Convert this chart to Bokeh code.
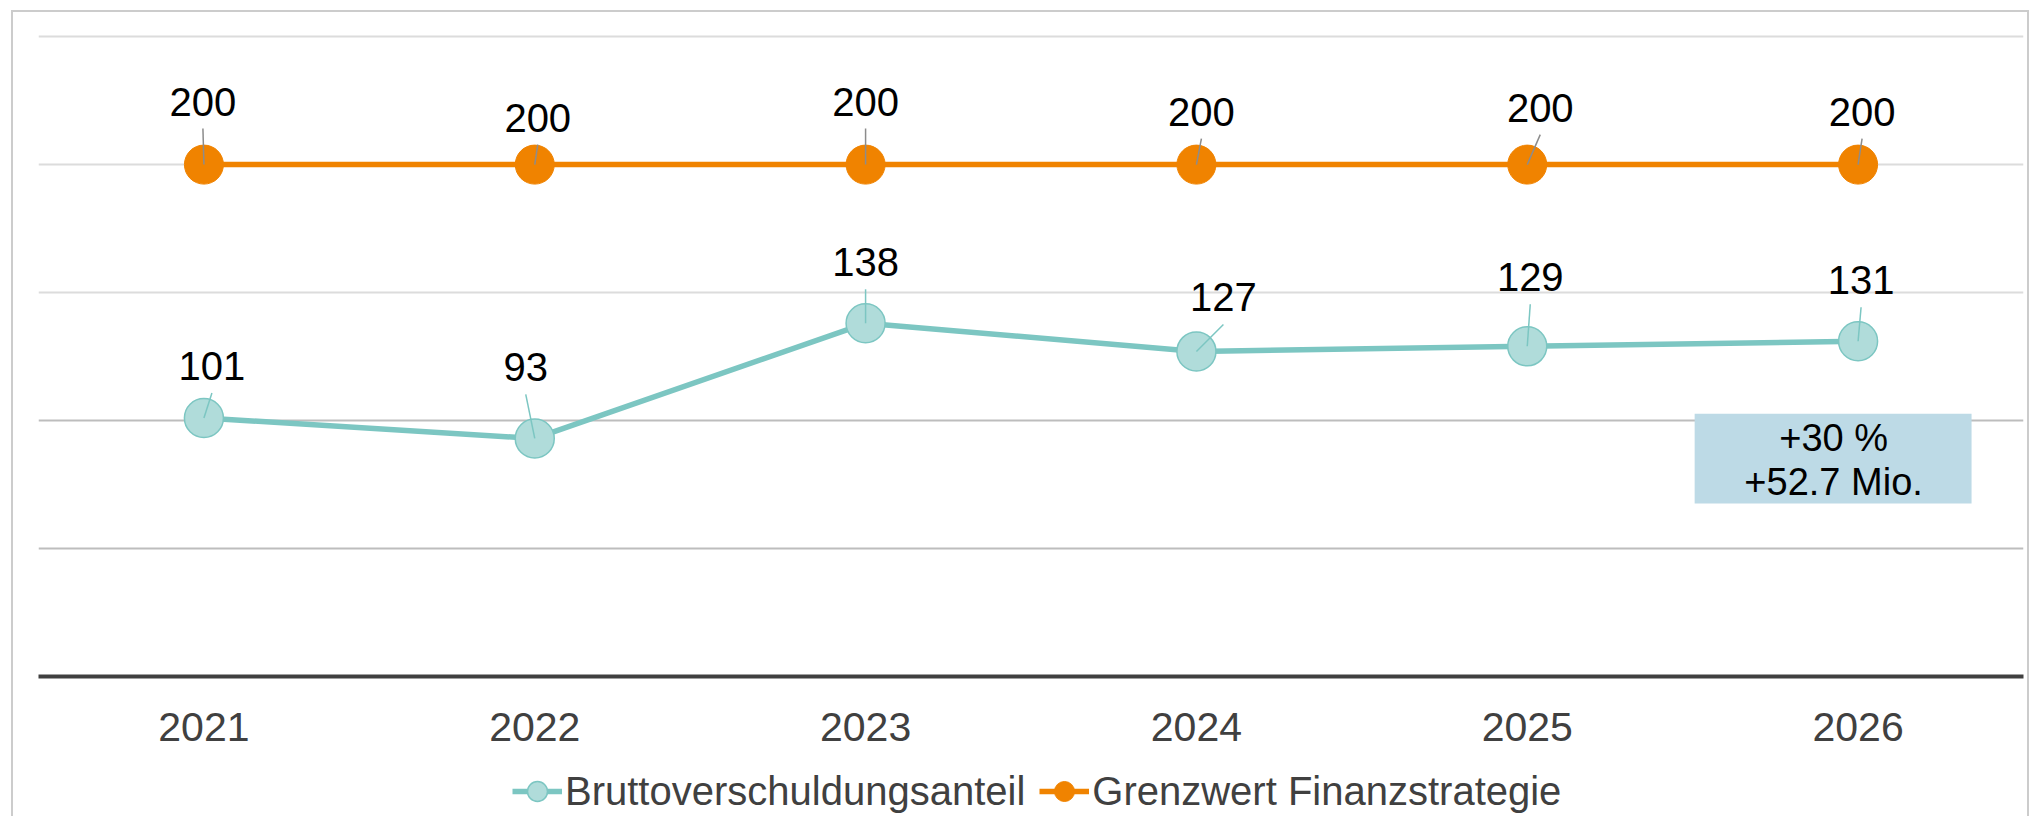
from bokeh.plotting import figure
from bokeh.layouts import column
from bokeh.models import (Range1d, FixedTicker, Grid, Legend, LegendItem, BoxAnnotation,
                          Label, ColumnDataSource, LinearAxis)
from bokeh.embed import file_html
from bokeh.resources import INLINE
from bokeh.core.properties import value

# ---------------- data ----------------
years = ["2021", "2022", "2023", "2024", "2025", "2026"]
brutto = [101, 93, 138, 127, 129, 131]
grenzwert = [200, 200, 200, 200, 200, 200]
grid_light = [150, 200, 250]
grid_dark = [50, 100]
series_names = ["Bruttoverschuldungsanteil", "Grenzwert Finanzstrategie"]
annotation_lines = ["+30 %", "+52.7 Mio."]

# ---------------- styles ----------------
brutto_label_dx = [8, -9, 0, 27, 3, 3]      # px, label offset from point
brutto_label_dy = [52, 71, 61, 54, 69, 61]  # px, upward
grenz_label_dx = [-1, 3, 0, 5, 13, 4]
grenz_label_dy = [63, 47, 63, 53, 57, 53]

ORANGE = "#F08300"
TEAL = "#7CC6C2"
TEAL_FILL = "#B0DCDA"
TXT = "#404040"
FONT = "Liberation Sans"

n = len(years)
YMAX = 252
FW = 1985
FH = 645
px_x = FW / n
px_y = FH / YMAX

xs = list(range(n))

p = figure(frame_width=FW, frame_height=FH,
           x_range=Range1d(-0.5, n - 0.5), y_range=Range1d(0, YMAX),
           output_backend="svg", toolbar_location=None,
           x_axis_location=None, y_axis_location=None,
           min_border_left=38, min_border_right=7, min_border_top=31, min_border_bottom=90)
p.outline_line_color = None
p.background_fill_color = "white"
p.border_fill_alpha = 0
p.xgrid.visible = False
p.ygrid.visible = False

g1 = Grid(dimension=1, ticker=FixedTicker(ticks=grid_light), grid_line_color="#DCDCDC", grid_line_width=2)
g2 = Grid(dimension=1, ticker=FixedTicker(ticks=grid_dark), grid_line_color="#BDBDBD", grid_line_width=2)
p.add_layout(g1, "center")
p.add_layout(g2, "center")

xaxis = LinearAxis(ticker=FixedTicker(ticks=xs),
                   major_label_overrides={i: y for i, y in zip(xs, years)})
xaxis.axis_line_color = TXT
xaxis.axis_line_width = 4
xaxis.major_tick_line_color = None
xaxis.minor_tick_line_color = None
xaxis.major_label_text_font = FONT
xaxis.major_label_text_font_size = "41px"
xaxis.major_label_text_color = TXT
xaxis.major_label_standoff = 30
p.add_layout(xaxis, "below")

src_g = ColumnDataSource(dict(
    x=xs, y=grenzwert, label=[str(v) for v in grenzwert],
    xo=grenz_label_dx, yo=[-d for d in grenz_label_dy],
    x1=[xi + dx / px_x for xi, dx in zip(xs, grenz_label_dx)],
    y1=[v + (dy - 27) / px_y for v, dy in zip(grenzwert, grenz_label_dy)],
))
src_b = ColumnDataSource(dict(
    x=xs, y=brutto, label=[str(v) for v in brutto],
    xo=brutto_label_dx, yo=[-d for d in brutto_label_dy],
    x1=[xi + dx / px_x for xi, dx in zip(xs, brutto_label_dx)],
    y1=[v + (dy - 27) / px_y for v, dy in zip(brutto, brutto_label_dy)],
))

line_g = dict(line_color=ORANGE, line_width=5.5)
mark_g = dict(size=39, fill_color=ORANGE, line_color=ORANGE, line_width=1)
line_b = dict(line_color=TEAL, line_width=5.5)
mark_b = dict(size=39, fill_color=TEAL_FILL, line_color=TEAL, line_width=1.5)

p.line("x", "y", source=src_g, **line_g)
p.scatter("x", "y", source=src_g, **mark_g)
p.line("x", "y", source=src_b, **line_b)
p.scatter("x", "y", source=src_b, **mark_b)

p.segment(x0="x", y0="y", x1="x1", y1="y1", source=src_g, line_color="#8C8C8C", line_width=1.5)
p.segment(x0="x", y0="y", x1="x1", y1="y1", source=src_b, line_color=TEAL, line_width=1.5)

for src in (src_g, src_b):
    p.text(x="x", y="y", text="label", x_offset="xo", y_offset="yo", source=src,
           text_font=value(FONT), text_font_size="40px", text_color="black",
           text_align="center", text_baseline="middle")

# annotation box
box = BoxAnnotation(left=4.506, right=5.343, top=102.7, bottom=67.6,
                    fill_color="#BDDAE6", fill_alpha=1, line_color=None)
p.add_layout(box)
for txt, yy in zip(annotation_lines, [93.0, 75.8]):
    p.add_layout(Label(x=4.926, y=yy, text=txt, text_font=FONT, text_font_size="38px",
                       text_color="black", text_align="center", text_baseline="middle"))

# ---------------- legend strip (series drawn off-view; only the legend shows) ----------------
p2 = figure(width=2030, height=50, x_range=Range1d(0, 1), y_range=Range1d(-2, -1),
            output_backend="svg", toolbar_location=None,
            x_axis_location=None, y_axis_location=None, min_border=0)
p2.outline_line_color = None
p2.background_fill_alpha = 0
p2.border_fill_alpha = 0
p2.xgrid.visible = False
p2.ygrid.visible = False
lb2 = p2.line(x=xs, y=brutto, **line_b)
sb2 = p2.scatter(x=xs, y=brutto, **mark_b)
lg2 = p2.line(x=xs, y=grenzwert, **line_g)
sg2 = p2.scatter(x=xs, y=grenzwert, **mark_g)
legend = Legend(items=[LegendItem(label=series_names[0], renderers=[lb2, sb2]),
                       LegendItem(label=series_names[1], renderers=[lg2, sg2])],
                location=(474, 0), orientation="horizontal",
                glyph_width=50, glyph_height=50, label_standoff=3, spacing=14,
                padding=0, margin=0, border_line_color=None, background_fill_alpha=0,
                label_text_font=FONT, label_text_font_size="40px", label_text_color=TXT)
p2.add_layout(legend, "center")

layout = column(p, p2, spacing=0)
# light outer chart border (left, top, right edges)
layout.styles = {
    "background-color": "white",
    "background-image": "linear-gradient(#CCCCCC,#CCCCCC), linear-gradient(#CCCCCC,#CCCCCC), linear-gradient(#CCCCCC,#CCCCCC)",
    "background-size": "2px 100%, 2018px 2px, 2px 100%",
    "background-position": "11px 10px, 11px 10px, 2027px 10px",
    "background-repeat": "no-repeat",
}

open("out.html", "w").write(file_html(layout, INLINE))
